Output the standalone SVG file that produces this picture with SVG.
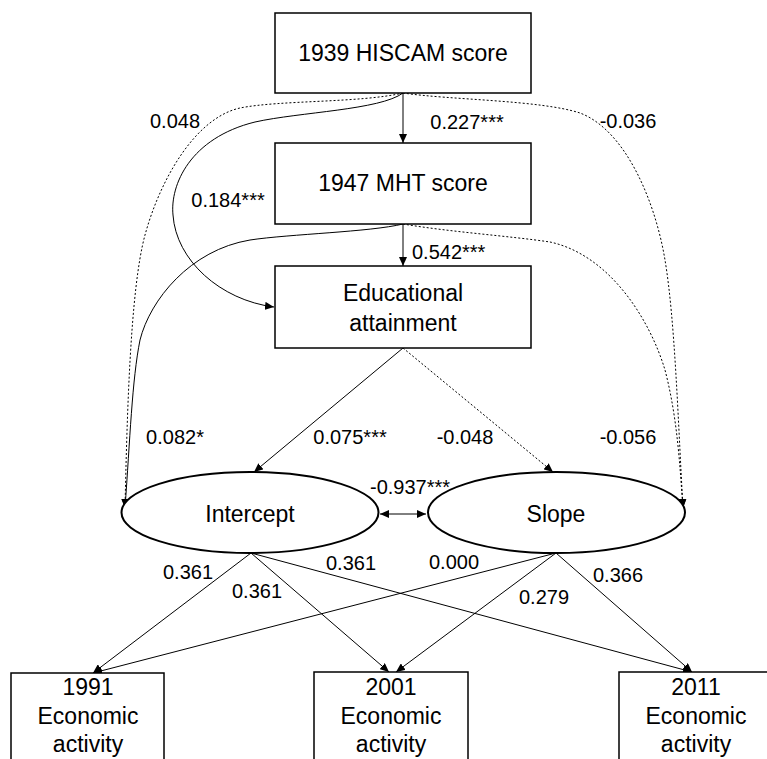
<svg xmlns="http://www.w3.org/2000/svg" width="767" height="759" viewBox="0 0 767 759">
<style>
.box{fill:#fff;stroke:#000;stroke-width:1.5}
.ell{fill:#fff;stroke:#000;stroke-width:2}
.nt{font-family:"Liberation Sans",Arial,sans-serif;font-size:23px;fill:#000;text-anchor:middle}
.lb{font-family:"Liberation Sans",Arial,sans-serif;font-size:20px;fill:#000;text-anchor:middle}
.s{fill:none;stroke:#000;stroke-width:1}
.d{fill:none;stroke:#000;stroke-width:1;stroke-dasharray:2 2}
.a{marker-end:url(#ah)}
</style>
<defs>
<marker id="ah" markerUnits="userSpaceOnUse" markerWidth="9" markerHeight="8" refX="9" refY="4" orient="auto-start-reverse">
<path d="M0,0 L9,4 L0,8 z" fill="#000"/>
</marker>
</defs>
<rect width="767" height="759" fill="#fff"/>
<g id="connectors">
<line class="s a" x1="403" y1="93" x2="403" y2="143"/>
<line class="s a" x1="403" y1="224" x2="403" y2="266"/>
<path class="d a" d="M403,93 C360,103 280,100 240,108 C195,118 160,180 145,235 C130,290 127,420 125,508"/>
<path class="s a" d="M403,93 C380,110 300,112 255,122 C190,138 170,185 173,215 C176,260 220,300 274,307"/>
<path class="s a" d="M403,224 C370,232 290,234 250,240 C190,250 150,300 140,340 C132,380 130,440 125,508"/>
<path class="d a" d="M403,93 C450,100 540,100 580,113 C625,130 655,200 665,260 C675,320 678,420 683,508"/>
<path class="d a" d="M403,224 C450,232 510,236 550,242 C610,255 650,320 665,370 C678,420 680,470 683,508"/>
<line class="s a" x1="403" y1="348" x2="254" y2="472"/>
<line class="d a" x1="403" y1="348" x2="553" y2="472"/>
<line class="s" x1="380" y1="514" x2="426" y2="514" marker-start="url(#ah)" marker-end="url(#ah)"/>
<line class="s a" x1="251" y1="553" x2="93" y2="673"/>
<line class="s a" x1="251" y1="553" x2="389" y2="672"/>
<line class="s a" x1="251" y1="553" x2="692" y2="672"/>
<line class="s a" x1="556" y1="553" x2="93" y2="673"/>
<line class="s a" x1="556" y1="553" x2="396" y2="672"/>
<line class="s a" x1="556" y1="553" x2="692" y2="672"/>
</g>
<g id="labels">
<text class="lb" x="175" y="128">0.048</text>
<text class="lb" x="467" y="129">0.227***</text>
<text class="lb" x="628" y="128">-0.036</text>
<text class="lb" x="228" y="207">0.184***</text>
<text class="lb" x="412" y="259" style="text-anchor:start">0.542***</text>
<text class="lb" x="175" y="444">0.082*</text>
<text class="lb" x="350" y="444">0.075***</text>
<text class="lb" x="465" y="444">-0.048</text>
<text class="lb" x="628" y="444">-0.056</text>
<text class="lb" x="410" y="494">-0.937***</text>
<text class="lb" x="188" y="579">0.361</text>
<text class="lb" x="257" y="598">0.361</text>
<text class="lb" x="351" y="570">0.361</text>
<text class="lb" x="454" y="569">0.000</text>
<text class="lb" x="544" y="604">0.279</text>
<text class="lb" x="618" y="582">0.366</text>
</g>
<g id="hiscam">
<rect class="box" x="275" y="13" width="256" height="80"/>
<text class="nt" x="403" y="61">1939 HISCAM score</text>
</g>
<g id="mht">
<rect class="box" x="275" y="143" width="256" height="81"/>
<text class="nt" x="403" y="191">1947 MHT score</text>
</g>
<g id="education">
<rect class="box" x="275" y="266" width="256" height="82"/>
<text class="nt" x="403" y="301">Educational</text>
<text class="nt" x="403" y="331">attainment</text>
</g>
<g id="intercept">
<ellipse class="ell" cx="250" cy="512.5" rx="128.5" ry="40.5"/>
<text class="nt" x="250" y="522">Intercept</text>
</g>
<g id="slope">
<ellipse class="ell" cx="556.5" cy="512.5" rx="128.5" ry="40.5"/>
<text class="nt" x="556" y="522">Slope</text>
</g>
<g id="econ1991">
<rect class="box" x="11" y="673" width="153" height="100"/>
<text class="nt" x="88" y="695">1991</text>
<text class="nt" x="88" y="724">Economic</text>
<text class="nt" x="88" y="752">activity</text>
</g>
<g id="econ2001">
<rect class="box" x="314" y="672" width="154" height="100"/>
<text class="nt" x="391" y="695">2001</text>
<text class="nt" x="391" y="724">Economic</text>
<text class="nt" x="391" y="752">activity</text>
</g>
<g id="econ2011">
<rect class="box" x="619" y="672" width="154" height="100"/>
<text class="nt" x="696" y="695">2011</text>
<text class="nt" x="696" y="724">Economic</text>
<text class="nt" x="696" y="752">activity</text>
</g>
</svg>
